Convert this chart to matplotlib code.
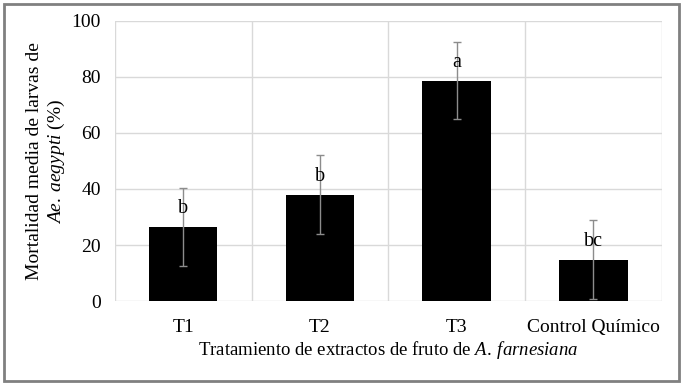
import matplotlib
matplotlib.use('Agg')
import matplotlib.pyplot as plt
from matplotlib.patches import Rectangle

plt.rcParams['font.family'] = ['Liberation Serif', 'DejaVu Serif']
plt.rcParams['mathtext.fontset'] = 'custom'
plt.rcParams['mathtext.rm'] = 'Liberation Serif'
plt.rcParams['mathtext.it'] = 'Liberation Serif:italic'

##########데이터
categories = ['T1', 'T2', 'T3', 'Control Químico']
mortality = [26.4, 38.0, 78.6, 14.8]
error = [13.9, 14.0, 13.8, 14.0]
letters = ['b', 'b', 'a', 'bc']
yticks = [0, 20, 40, 60, 80, 100]

##########그래프
fig = plt.figure(figsize=(6.83, 3.86), dpi=100)
ax = fig.add_axes([0.168, 0.220, 0.801, 0.726])

x = list(range(len(categories)))
ax.bar(x, mortality, width=0.5, color='black', zorder=3,
       yerr=error, error_kw=dict(ecolor='#8c8c8c', elinewidth=1, capsize=3, capthick=1, zorder=4))

for xi, v, lab in zip(x, mortality, letters):
    ax.text(xi, v + 6.5, lab, ha='center', va='center', fontsize=14.5, zorder=5)

ax.set_xlim(-0.5, len(categories) - 0.5)
ax.set_ylim(0, 100)
ax.set_yticks(yticks)
ax.set_xticks(x)
ax.set_xticklabels(categories)

# vertical grid at category boundaries
ax.set_xticks([i - 0.5 for i in range(len(categories) + 1)], minor=True)
ax.grid(axis='y', color='#d9d9d9', linewidth=1, zorder=0)
ax.grid(axis='x', which='minor', color='#d9d9d9', linewidth=1, zorder=0)
ax.grid(axis='x', which='major', visible=False)

for s in ax.spines.values():
    s.set_visible(False)
ax.tick_params(axis='both', which='both', length=0, labelsize=14)
ax.tick_params(axis='x', pad=13)
ax.tick_params(axis='y', pad=10)

ax.set_ylabel('Mortalidad media de larvas de\n$\\it{Ae.\\:aegypti}$ (%)', fontsize=14, labelpad=3, linespacing=1.2)
ax.set_xlabel('Tratamiento de extractos de fruto de $\\it{A.\\:farnesiana}$', fontsize=13.5, labelpad=2)

fig.patches.append(Rectangle((0.006, 0.012), 0.988, 0.978, transform=fig.transFigure,
                             fill=False, edgecolor='#808080', linewidth=2))

fig.savefig('out.png', dpi=100)
